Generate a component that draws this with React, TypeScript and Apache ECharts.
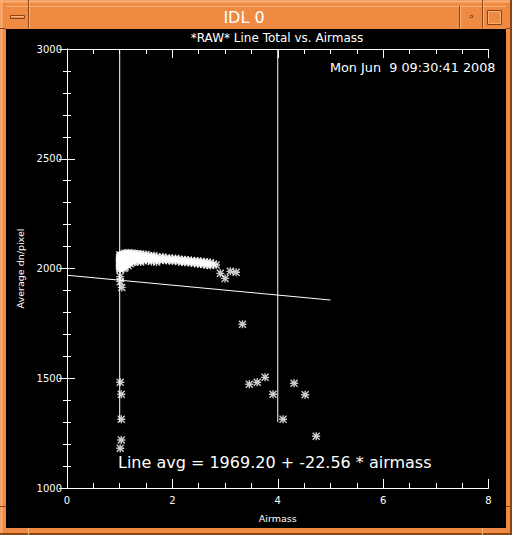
import React, { useEffect, useRef } from "react";
import * as echarts from "echarts";

const windowTitle = "IDL 0";
const chartTitle = "*RAW* Line Total vs. Airmass";
const dateText = "Mon Jun  9 09:30:41 2008";
const fitText = "Line avg = 1969.20 + -22.56 * airmass";
const xName = "Airmass";
const yName = "Average dn/pixel";

// scatter observations [airmass, average dn/pixel]
const clusterPts: number[][] = [
  [1.00, 2062], [1.00, 2050], [1.00, 2040], [1.00, 2030], [1.00, 2020], [1.00, 2010], [1.00, 2000],
  [1.01, 1995], [1.01, 2055], [1.01, 2045], [1.01, 2035], [1.01, 2025], [1.01, 2015], [1.01, 2005],
  [1.02, 2060], [1.02, 2048], [1.02, 2038], [1.02, 2028], [1.02, 2018], [1.02, 2008],
  [1.03, 2058], [1.03, 2044], [1.03, 2032], [1.03, 2022], [1.03, 2012],
  [1.04, 2056], [1.04, 2040], [1.04, 2026], [1.05, 2062], [1.05, 2050], [1.05, 2036],
  [1.06, 2058], [1.06, 2044], [1.06, 2030],
  [1.01, 1963], [1.01, 1940], [1.04, 1914],
];
const bandPts: number[][] = [
  [1.08, 2065], [1.08, 2050], [1.08, 2035], [1.08, 2015], [1.08, 2000],
  [1.10, 2070], [1.10, 2058], [1.10, 2042], [1.10, 2025], [1.10, 2005],
  [1.13, 2068], [1.13, 2055], [1.13, 2040], [1.13, 2020],
  [1.16, 2072], [1.16, 2060], [1.16, 2045], [1.16, 2030], [1.16, 2012],
  [1.20, 2066], [1.20, 2054], [1.20, 2038], [1.20, 2022],
  [1.24, 2070], [1.24, 2058], [1.24, 2045], [1.24, 2030],
  [1.28, 2068], [1.28, 2055], [1.28, 2040], [1.28, 2028],
  [1.32, 2066], [1.32, 2052], [1.32, 2038],
  [1.36, 2064], [1.36, 2050], [1.36, 2036],
  [1.40, 2066], [1.40, 2054], [1.40, 2040], [1.40, 2030],
  [1.45, 2062], [1.45, 2050], [1.45, 2035],
  [1.50, 2064], [1.50, 2052], [1.50, 2040],
  [1.55, 2058], [1.55, 2046], [1.55, 2036],
  [1.60, 2056], [1.60, 2044], [1.60, 2032],
  [1.65, 2058], [1.65, 2045],
  [1.70, 2052], [1.70, 2040], [1.70, 2030],
  [1.76, 2050], [1.76, 2038], [1.82, 2052], [1.82, 2040],
  [1.88, 2046], [1.88, 2036], [1.94, 2048], [1.94, 2038],
  [2.00, 2044], [2.00, 2034], [2.06, 2046], [2.06, 2036],
  [2.12, 2042], [2.12, 2032], [2.18, 2040], [2.18, 2030],
  [2.24, 2040], [2.24, 2028], [2.30, 2038], [2.30, 2028],
  [2.36, 2036], [2.36, 2026], [2.42, 2034], [2.42, 2024],
  [2.48, 2034], [2.48, 2022], [2.54, 2032], [2.54, 2020],
  [2.60, 2030], [2.60, 2018], [2.66, 2028], [2.66, 2016],
  [2.72, 2026], [2.72, 2014], [2.78, 2020], [2.83, 2016],
];
const outlierPts: number[][] = [
  [1.01, 1482], [1.03, 1427], [1.03, 1313], [1.03, 1219], [1.01, 1181],
  [2.91, 1978], [3.00, 1955], [3.10, 1987], [3.21, 1983], [3.33, 1746],
  [3.46, 1473], [3.61, 1482], [3.76, 1504], [3.91, 1427], [4.10, 1313],
  [4.31, 1477], [4.52, 1425], [4.73, 1236],
];

// vertical marker lines and fit line endpoints
const markerA: number[][] = [[1, 1300], [1, 3000]];
const markerB: number[][] = [[4, 1300], [4, 3000]];
const fitLine: number[][] = [[0, 1969.2], [5, 1856.4]];

const xMin = 0, xMax = 8, xStep = 2;
const yMin = 1000, yMax = 3000, yStep = 500;

const ASTERISK =
  "path://M3.3 0L4.7 0L4.7 8L3.3 8Z M0 3.3L8 3.3L8 4.7L0 4.7Z M0 1L1 0L8 7L7 8Z M7 0L8 1L1 8L0 7Z";

const ORANGE = "#ee8a42";
const LIGHT = "#f8b27c";
const DARK = "#8a4516";
const FONT = "DejaVu Sans";

export default function App() {
  const ref = useRef<HTMLDivElement>(null);
  useEffect(() => {
    if (!ref.current) return;
    const chart = echarts.init(ref.current, undefined, { renderer: "svg" });
    const axisCommon = {
      type: "value" as const,
      axisLine: { show: true, lineStyle: { color: "#fff", width: 1 } },
      splitLine: { show: false },
    };
    const white = { color: "#fff", width: 1 };
    chart.setOption({
      animation: false,
      backgroundColor: ORANGE,
      grid: { left: 67, right: 23.5, top: 49, bottom: 47, containLabel: false },
      xAxis: [
        {
          ...axisCommon, position: "bottom", min: xMin, max: xMax, interval: xStep,
          axisTick: { show: true, inside: true, length: 9, lineStyle: white },
          minorTick: { show: true, splitNumber: 4, length: 5, lineStyle: white },
          axisLabel: { color: "#fff", fontSize: 10, fontFamily: FONT, margin: 7, formatter: (v: number) => String(v) },
          name: xName, nameLocation: "middle", nameGap: 25,
          nameTextStyle: { color: "#fff", fontSize: 9.5, fontFamily: FONT },
        },
        {
          ...axisCommon, position: "top", min: xMin, max: xMax, interval: xStep,
          axisTick: { show: true, inside: true, length: 9, lineStyle: white },
          minorTick: { show: true, splitNumber: 4, length: 5, lineStyle: white },
          axisLabel: { show: false },
        },
      ],
      yAxis: [
        {
          ...axisCommon, position: "left", min: yMin, max: yMax, interval: yStep,
          axisTick: { show: true, inside: true, length: 8, lineStyle: white },
          minorTick: { show: true, splitNumber: 5, length: 4, lineStyle: white },
          axisLabel: { color: "#fff", fontSize: 10, fontFamily: FONT, margin: 5, formatter: (v: number) => String(v) },
          name: yName, nameLocation: "middle", nameGap: 40, nameRotate: 90,
          nameTextStyle: { color: "#fff", fontSize: 9.5, fontFamily: FONT },
        },
        {
          ...axisCommon, position: "right", min: yMin, max: yMax, interval: yStep,
          axisTick: { show: true, inside: true, length: 8, lineStyle: white },
          minorTick: { show: true, splitNumber: 5, length: 4, lineStyle: white },
          axisLabel: { show: false },
        },
      ],
      graphic: [
        // window frame
        { type: "rect", z: -10, shape: { x: 0, y: 0, width: 512, height: 535 }, style: { fill: ORANGE } },
        { type: "line", z: -9, shape: { x1: 0, y1: 1.5, x2: 512, y2: 1.5 }, style: { stroke: LIGHT, lineWidth: 2 } },
        { type: "line", z: -9, shape: { x1: 1.5, y1: 0, x2: 1.5, y2: 535 }, style: { stroke: LIGHT, lineWidth: 2 } },
        { type: "line", z: -9, shape: { x1: 0, y1: 534, x2: 512, y2: 534 }, style: { stroke: DARK, lineWidth: 2 } },
        { type: "line", z: -9, shape: { x1: 511, y1: 0, x2: 511, y2: 535 }, style: { stroke: DARK, lineWidth: 2 } },
        { type: "line", z: -9, shape: { x1: 6, y1: 6.5, x2: 506, y2: 6.5 }, style: { stroke: LIGHT, lineWidth: 1 } },
        { type: "line", z: -9, shape: { x1: 0, y1: 28.5, x2: 6, y2: 28.5 }, style: { stroke: DARK, lineWidth: 1 } },
        { type: "line", z: -9, shape: { x1: 506, y1: 28.5, x2: 512, y2: 28.5 }, style: { stroke: DARK, lineWidth: 1 } },
        { type: "line", z: -9, shape: { x1: 0, y1: 506.5, x2: 6, y2: 506.5 }, style: { stroke: DARK, lineWidth: 1 } },
        { type: "line", z: -9, shape: { x1: 506, y1: 506.5, x2: 512, y2: 506.5 }, style: { stroke: DARK, lineWidth: 1 } },
        { type: "line", z: -9, shape: { x1: 28.5, y1: 0, x2: 28.5, y2: 28 }, style: { stroke: DARK, lineWidth: 1 } },
        { type: "line", z: -9, shape: { x1: 29.5, y1: 0, x2: 29.5, y2: 28 }, style: { stroke: LIGHT, lineWidth: 1 } },
        { type: "line", z: -9, shape: { x1: 28.5, y1: 528, x2: 28.5, y2: 535 }, style: { stroke: LIGHT, lineWidth: 1 } },
        { type: "line", z: -9, shape: { x1: 482.5, y1: 528, x2: 482.5, y2: 535 }, style: { stroke: LIGHT, lineWidth: 1 } },
        { type: "line", z: -9, shape: { x1: 459.5, y1: 6, x2: 459.5, y2: 28 }, style: { stroke: DARK, lineWidth: 1 } },
        { type: "line", z: -9, shape: { x1: 460.5, y1: 6, x2: 460.5, y2: 28 }, style: { stroke: LIGHT, lineWidth: 1 } },
        { type: "line", z: -9, shape: { x1: 482.5, y1: 0, x2: 482.5, y2: 28 }, style: { stroke: DARK, lineWidth: 1 } },
        { type: "line", z: -9, shape: { x1: 483.5, y1: 0, x2: 483.5, y2: 28 }, style: { stroke: LIGHT, lineWidth: 1 } },
        { type: "rect", z: -9, shape: { x: 10.5, y: 15.5, width: 14, height: 3 }, style: { fill: ORANGE, stroke: DARK, lineWidth: 1 } },
        { type: "line", z: -8, shape: { x1: 11, y1: 16.5, x2: 24, y2: 16.5 }, style: { stroke: LIGHT, lineWidth: 1 } },
        { type: "rect", z: -9, shape: { x: 470.5, y: 15.5, width: 2, height: 2 }, style: { fill: LIGHT, stroke: DARK, lineWidth: 1 } },
        { type: "rect", z: -9, shape: { x: 487.5, y: 10.5, width: 14, height: 14 }, style: { fill: ORANGE, stroke: DARK, lineWidth: 1 } },
        { type: "rect", z: -8, shape: { x: 488.5, y: 11.5, width: 12, height: 12 }, style: { fill: "none", stroke: LIGHT, lineWidth: 1 } },
        { type: "text", z: -8, x: 244, y: 17, style: { text: windowTitle, fill: "#fff", font: `16px "${FONT}"`, textAlign: "center", textVerticalAlign: "middle" } },
        // plot canvas
        { type: "rect", z: -9, shape: { x: 6, y: 29, width: 500, height: 499 }, style: { fill: "#000" } },
        { type: "text", z: 10, x: 277, y: 38, style: { text: chartTitle, fill: "#fff", font: `12px "${FONT}"`, textAlign: "center", textVerticalAlign: "middle" } },
        { type: "text", z: 10, x: 330, y: 67, style: { text: dateText, fill: "#fff", font: `12.8px "${FONT}"`, textAlign: "left", textVerticalAlign: "middle" } },
        { type: "text", z: 10, x: 118, y: 462, style: { text: fitText, fill: "#fff", font: `16px "${FONT}"`, textAlign: "left", textVerticalAlign: "middle" } },
      ],
      series: [
        {
          type: "scatter", xAxisIndex: 0, yAxisIndex: 0,
          data: [...clusterPts, ...bandPts, ...outlierPts],
          symbol: ASTERISK, symbolSize: 8,
          itemStyle: { color: "#fff" },
          silent: true,
        },
        { type: "line", data: markerA, showSymbol: false, symbol: "none", lineStyle: { color: "#fff", width: 1 }, silent: true },
        { type: "line", data: markerB, showSymbol: false, symbol: "none", lineStyle: { color: "#fff", width: 1 }, silent: true },
        { type: "line", data: fitLine, showSymbol: false, symbol: "none", lineStyle: { color: "#fff", width: 1 }, silent: true },
      ],
    });
    return () => chart.dispose();
  }, []);
  return (
    <div
      ref={ref}
      style={{ position: "absolute", left: 0, top: 0, width: 512, height: 535 }}
    />
  );
}
